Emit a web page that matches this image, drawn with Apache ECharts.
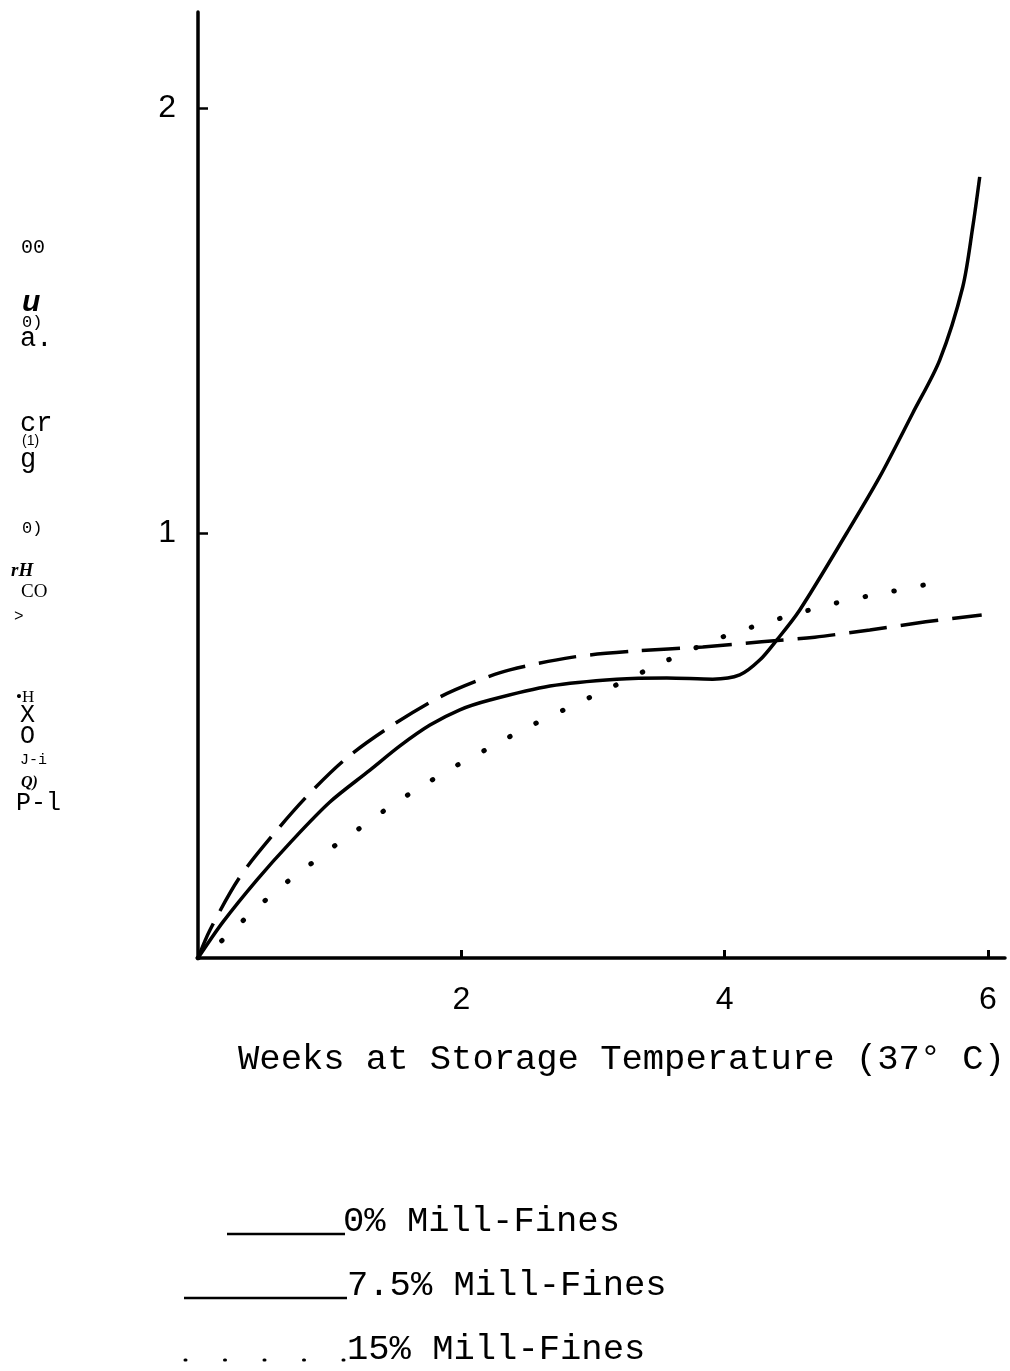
<!DOCTYPE html>
<html>
<head>
<meta charset="utf-8">
<script src="https://cdn.jsdelivr.net/npm/echarts@6/dist/echarts.min.js"></script>
<style>
  html, body { margin: 0; padding: 0; background: #fff; }
  #chart { width: 1010px; height: 1371px; }
</style>
</head>
<body>
<div id="chart"></div>
<script>
// Series labels and axis ticks
const seriesNames = ['0% Mill-Fines', '7.5% Mill-Fines', '15% Mill-Fines'];
const xTicks = [2, 4, 6];
const yTicks = [1, 2];
const xTitle = 'Weeks at Storage Temperature (37\u00b0 C)';

// 0% mill-fines (solid curve)
const weeks0  = [0, 0.19, 0.448, 0.699, 1.002, 1.306, 1.534, 1.762, 1.989, 2.217, 2.673, 3.181, 3.561, 3.910, 4.115, 4.267, 4.396, 4.571, 4.928, 5.178, 5.429, 5.634, 5.809, 5.885, 5.938];
const values0 = [0, 0.085, 0.184, 0.271, 0.367, 0.442, 0.499, 0.548, 0.584, 0.607, 0.640, 0.656, 0.659, 0.656, 0.666, 0.701, 0.748, 0.819, 1.000, 1.132, 1.282, 1.407, 1.579, 1.720, 1.838];

// 7.5% mill-fines (dashed curve)
const weeks75  = [0, 0.091, 0.319, 0.600, 0.850, 1.131, 1.458, 1.837, 2.118, 2.369, 2.847, 3.310, 3.834, 4.282, 4.685, 5.103, 5.528, 5.953];
const values75 = [0, 0.066, 0.191, 0.301, 0.388, 0.471, 0.544, 0.614, 0.652, 0.678, 0.708, 0.722, 0.732, 0.744, 0.755, 0.772, 0.791, 0.807];

// 15% mill-fines (dotted curve)
const weeks15  = [0, 0.152, 0.296, 0.456, 0.607, 0.805, 1.002, 1.222, 1.443, 1.678, 1.959, 2.210, 2.460, 2.779, 3.159, 3.554, 3.964, 4.282, 4.510, 4.753, 4.981, 5.247, 5.467, 5.649];
const values15 = [0, 0.033, 0.075, 0.120, 0.162, 0.209, 0.256, 0.304, 0.353, 0.400, 0.452, 0.494, 0.536, 0.584, 0.640, 0.699, 0.753, 0.786, 0.807, 0.828, 0.845, 0.861, 0.875, 0.885];

// Stray characters printed down the left margin: [text, x, y, size, family, weight, style]
const marginText = [
  ['00',  21, 248, 20, 'Liberation Mono', 'normal', 'normal'],
  ['u',   22, 303, 30, 'Liberation Sans', 'bold', 'italic'],
  ['0)',  22, 322, 17, 'Liberation Mono', 'normal', 'normal'],
  ['a.',  20, 339, 27, 'Liberation Mono', 'normal', 'normal'],
  ['cr',  20, 424, 27, 'Liberation Mono', 'normal', 'normal'],
  ['(1)', 22, 441, 14, 'Liberation Sans', 'normal', 'normal'],
  ['g',   20, 460, 27, 'Liberation Mono', 'normal', 'normal'],
  ['0)',  22, 528, 17, 'Liberation Mono', 'normal', 'normal'],
  ['rH',  11, 571, 19, 'Liberation Serif', 'bold', 'italic'],
  ['CO',  21, 592, 19, 'Liberation Serif', 'normal', 'normal'],
  ['>',   14, 617, 16, 'Liberation Mono', 'normal', 'normal'],
  ['\u2022H', 16, 698, 17, 'Liberation Serif', 'normal', 'normal'],
  ['X',   20, 715, 25, 'Liberation Mono', 'normal', 'normal'],
  ['O',   20, 736, 25, 'Liberation Mono', 'normal', 'normal'],
  ['J-i', 20, 760, 15, 'Liberation Mono', 'normal', 'normal'],
  ['Q)',  21, 783, 16, 'Liberation Serif', 'bold', 'italic'],
  ['P-l', 16, 803, 25, 'Liberation Mono', 'normal', 'normal']
];

const zip = (xs, ys) => xs.map((x, i) => [x, ys[i]]);
const INK = '#000';
const MONO = 'Liberation Mono';

const chart = echarts.init(document.getElementById('chart'), null, { renderer: 'canvas' });

const graphics = [];
marginText.forEach(([t, x, y, size, fam, w, st]) => {
  graphics.push({
    type: 'text', x: x, y: y, silent: true,
    style: { text: t, fill: INK, fontSize: size, fontFamily: fam, fontWeight: w, fontStyle: st, verticalAlign: 'middle', align: 'left' }
  });
});

// Legend key drawn below the axis title
graphics.push(
  { type: 'line', shape: { x1: 227, y1: 1234, x2: 345, y2: 1234 }, style: { stroke: INK, lineWidth: 2.5 } },
  { type: 'text', x: 343, y: 1222, style: { text: seriesNames[0], fill: INK, fontSize: 35.5, fontFamily: MONO, verticalAlign: 'middle' } },
  { type: 'line', shape: { x1: 184, y1: 1298, x2: 347, y2: 1298 }, style: { stroke: INK, lineWidth: 2.5 } },
  { type: 'text', x: 347, y: 1286, style: { text: seriesNames[1], fill: INK, fontSize: 35.5, fontFamily: MONO, verticalAlign: 'middle' } },
  { type: 'line', shape: { x1: 185, y1: 1360, x2: 345, y2: 1360 }, style: { stroke: INK, lineWidth: 3, lineDash: [1, 38.5], lineCap: 'round' } },
  { type: 'text', x: 347, y: 1350, style: { text: seriesNames[2], fill: INK, fontSize: 35.5, fontFamily: MONO, verticalAlign: 'middle' } }
);

chart.setOption({
  backgroundColor: '#fff',
  animation: false,
  grid: { left: 198, right: 5, top: 12, bottom: 413, containLabel: false },
  xAxis: {
    type: 'value', min: 0, max: 6.13, interval: 2,
    axisLine: { show: true, lineStyle: { color: INK, width: 3.5 } },
    axisTick: { show: true, inside: true, length: 8, customValues: xTicks, lineStyle: { color: INK, width: 3 } },
    axisLabel: { customValues: xTicks, margin: 26, color: INK, fontSize: 32, fontFamily: 'Liberation Sans' },
    splitLine: { show: false },
    name: xTitle, nameLocation: 'middle', nameGap: 84,
    nameTextStyle: { color: INK, fontSize: 35.5, fontFamily: MONO, padding: [0, 0, 0, 40] }
  },
  yAxis: {
    type: 'value', min: 0, max: 2.226, interval: 1,
    axisLine: { show: true, lineStyle: { color: INK, width: 3.5 } },
    axisTick: { show: true, inside: true, length: 10, customValues: yTicks, lineStyle: { color: INK, width: 2.5 } },
    axisLabel: { customValues: yTicks, margin: 22, color: INK, fontSize: 32, fontFamily: 'Liberation Sans' },
    splitLine: { show: false }
  },
  series: [
    {
      name: seriesNames[0], type: 'line', smooth: 0.3, showSymbol: false,
      data: zip(weeks0, values0),
      lineStyle: { color: INK, width: 3.5, type: 'solid' }
    },
    {
      name: seriesNames[1], type: 'line', smooth: 0.3, showSymbol: false,
      data: zip(weeks75, values75),
      lineStyle: { color: INK, width: 3.5, type: [38, 14] }
    },
    {
      name: seriesNames[2], type: 'line', smooth: 0.3, showSymbol: false,
      data: zip(weeks15, values15),
      lineStyle: { color: INK, width: 5, type: [0.5, 29], cap: 'round' }
    }
  ],
  graphic: graphics
});
</script>
</body>
</html>
